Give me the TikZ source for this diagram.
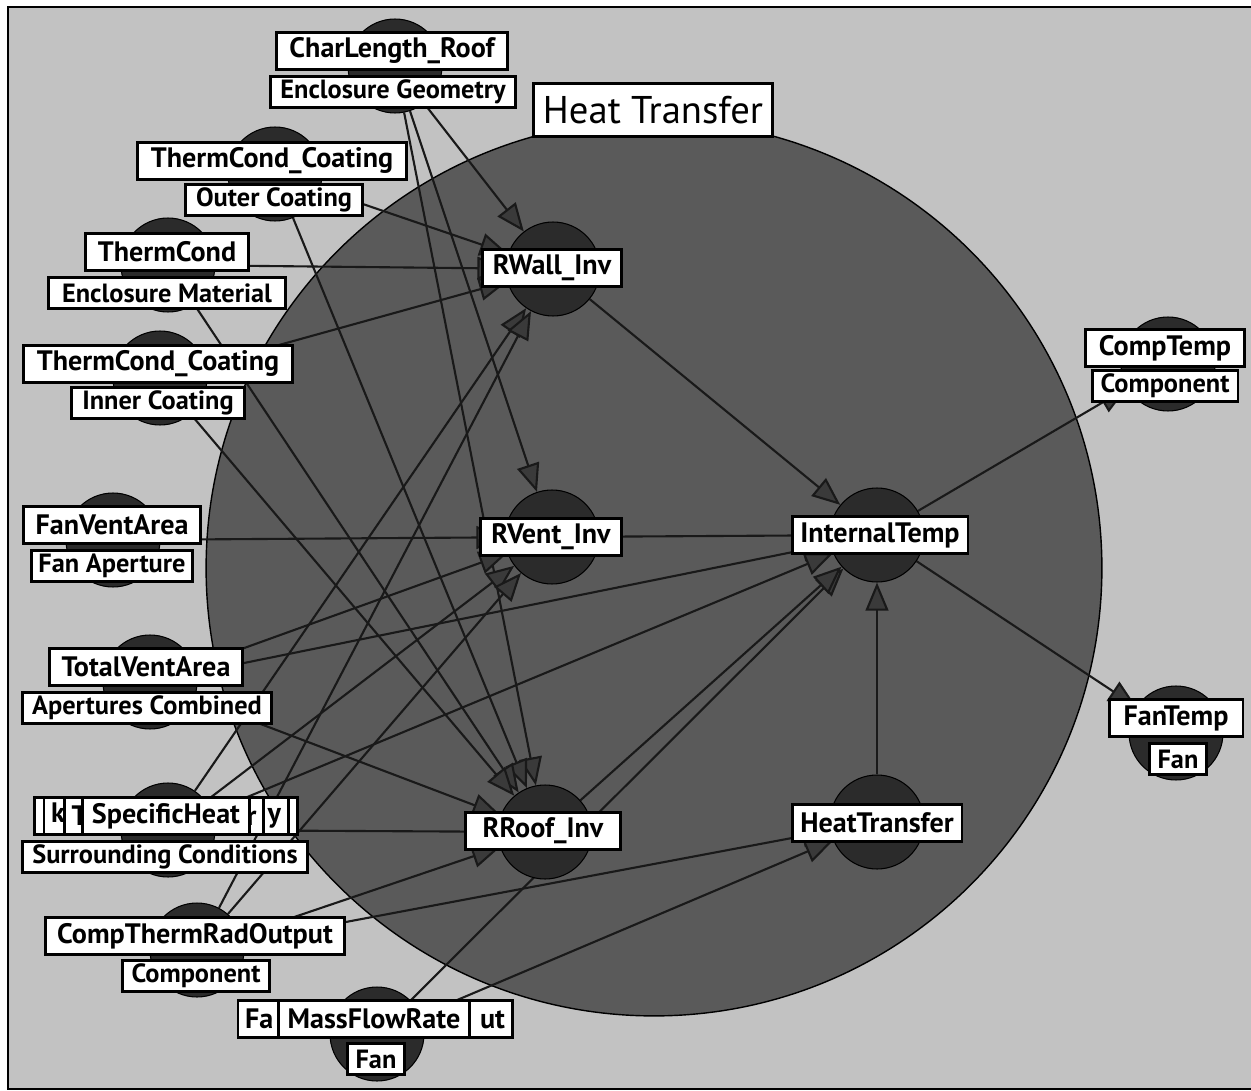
\documentclass[tikz,border=0pt]{standalone}
\usepackage{fontspec}
\setmainfont{PT Sans}
\usepackage{tikz}
\usetikzlibrary{arrows.meta}

\definecolor{paper}{HTML}{C2C2C2}
\definecolor{disc}{HTML}{5A5A5A}
\definecolor{knob}{HTML}{2B2B2B}
\definecolor{tipgray}{HTML}{3A3A3A}
\pgfdeclarelayer{back}
\pgfdeclarelayer{wires}
\pgfsetlayers{back,wires,main}

\begin{document}
\begin{tikzpicture}[x=0.02cm,y=-0.02cm,
  vnode/.style={circle,fill=knob,draw=black,line width=0.6pt,minimum size=1.88cm,inner sep=0pt},
  vlabel/.style={draw=black,line width=1.7pt,fill=white,inner sep=1pt,minimum height=0.74cm,
    font=\bfseries\fontsize{16}{16}\selectfont},
  glabel/.style={vlabel,minimum height=0.62cm,font=\bfseries\fontsize{15}{15}\selectfont},
  dep/.style={line width=1.2pt,draw=black!90,-{Triangle[length=16pt,width=13pt,fill=tipgray]}}]
  \useasboundingbox (0,0) rectangle (1251,1091);
  \begin{pgfonlayer}{back}
    \draw[line width=1.6pt,fill=paper] (8,7) rectangle (1262,1089);
    \draw[line width=0.8pt,fill=disc] (654,568) circle[radius=8.96cm]; % Heat Transfer の領域
  \end{pgfonlayer}

  % 変数の丸
  \node[vnode] (clr) at (395,66) {};
  \node[vnode] (tco) at (275,174) {};
  \node[vnode] (tcm) at (168,265) {};
  \node[vnode] (tci) at (160,378) {};
  \node[vnode] (fva) at (113,540) {};
  \node[vnode] (tva) at (150,682) {};
  \node[vnode] (sph) at (168,830) {};
  \node[vnode] (ctr) at (197,950) {};
  \node[vnode] (mfr) at (377,1034) {};
  \node[vnode] (rwall) at (553,269) {};
  \node[vnode] (rvent) at (552,537) {};
  \node[vnode] (rroof) at (545,832) {};
  \node[vnode] (itemp) at (877,535) {};
  \node[vnode] (htr) at (877,822) {};
  \node[vnode] (ctemp) at (1168,364) {};
  \node[vnode] (ftemp) at (1176,733) {};

  \begin{pgfonlayer}{wires}
    \draw[dep] (clr) -- (rwall);
    \draw[dep] (clr) -- (rvent);
    \draw[dep] (clr) -- (rroof);
    \draw[dep] (tco) -- (rwall);
    \draw[dep] (tco) -- (rroof);
    \draw[dep] (tcm) -- (rwall);
    \draw[dep] (tcm) -- (rroof);
    \draw[dep] (tci) -- (rwall);
    \draw[dep] (tci) -- (rroof);
    \draw[dep] (fva) -- (rvent);
    \draw[dep] (tva) -- (rvent);
    \draw[dep] (tva) -- (itemp);
    \draw[dep] (tva) -- (rroof);
    \draw[dep] (sph) -- (rwall);
    \draw[dep] (sph) -- (rvent);
    \draw[dep] (sph) -- (itemp);
    \draw[dep] (sph) -- (rroof);
    \draw[dep] (ctr) -- (rwall);
    \draw[dep] (ctr) -- (rvent);
    \draw[dep] (ctr) -- (rroof);
    \draw[dep] (ctr) -- (htr);
    \draw[dep] (mfr) -- (itemp);
    \draw[dep] (mfr) -- (htr);
    \draw[dep] (rwall) -- (itemp);
    \draw[dep] (rvent) -- (itemp);
    \draw[dep] (rroof) -- (itemp);
    \draw[dep] (htr) -- (itemp);
    \draw[dep] (itemp) -- (ctemp); % 出力
    \draw[dep] (itemp) -- (ftemp); % 出力
  \end{pgfonlayer}

  % ラベル
  \node[vlabel,minimum width=4.62cm] (clr-v) at (392,51) {CharLength\_Roof};
  \node[glabel,minimum width=4.9cm] (clr-g) at (393,92) {Enclosure Geometry};
  \node[vlabel,minimum width=5.38cm] (tco-v) at (272,161) {ThermCond\_Coating};
  \node[glabel,minimum width=3.54cm] (tco-g) at (274,200) {Outer Coating};
  \node[vlabel,minimum width=3.28cm] (tcm-v) at (167,252) {ThermCond};
  \node[glabel,minimum width=4.76cm] (tcm-g) at (167,293) {Enclosure Material};
  \node[vlabel,minimum width=5.4cm] (tci-v) at (158,364) {ThermCond\_Coating};
  \node[glabel,minimum width=3.48cm] (tci-g) at (158,403) {Inner Coating};
  \node[vlabel,minimum width=3.56cm] (fva-v) at (112,525) {FanVentArea};
  \node[glabel,minimum width=3.22cm] (fva-g) at (112,566) {Fan Aperture};
  \node[vlabel,minimum width=3.88cm] (tva-v) at (146,667) {TotalVentArea};
  \node[glabel,minimum width=5.0cm] (tva-g) at (147,708) {Apertures Combined};
  \node[vlabel,minimum width=5.26cm] (sph-a) at (166,816) {};
  \node[vlabel,text width=4.6cm,inner xsep=4pt] (sph-b) at (166,816) {k\hfill y};
  \node[vlabel,text width=3.7cm,inner xsep=4pt] (sph-c) at (164,816) {T\hfill r};
  \node[vlabel,minimum width=3.34cm] (sph-v) at (166,816) {SpecificHeat};
  \node[glabel,minimum width=5.7cm] (sph-g) at (165,857) {Surrounding Conditions};
  \node[vlabel,minimum width=6.0cm] (ctr-v) at (195,936) {CompThermRadOutput};
  \node[glabel,minimum width=2.94cm] (ctr-g) at (196,976) {Component};
  \node[vlabel,text width=5.2cm,inner xsep=4pt] (mfr-a) at (375,1019) {Fa\hfill ut};
  \node[vlabel,minimum width=3.84cm] (mfr-v) at (374,1019) {MassFlowRate};
  \node[glabel,minimum width=1.14cm] (mfr-g) at (376,1059) {Fan};
  \node[vlabel,minimum width=2.78cm] (rwall-v) at (552,268) {RWall\_Inv};
  \node[vlabel,minimum width=2.84cm] (rvent-v) at (551,537) {RVent\_Inv};
  \node[vlabel,minimum width=3.52cm] (itemp-v) at (880,535) {InternalTemp};
  \node[vlabel,minimum width=3.1cm] (rroof-v) at (543,831) {RRoof\_Inv};
  \node[vlabel,minimum width=3.4cm] (htr-v) at (877,823) {HeatTransfer};
  \node[vlabel,minimum width=3.18cm] (ctemp-v) at (1165,348) {CompTemp};
  \node[glabel,minimum width=2.92cm] (ctemp-g) at (1165,386) {Component};
  \node[vlabel,minimum width=2.68cm] (ftemp-v) at (1176,718) {FanTemp};
  \node[glabel,minimum width=1.14cm] (ftemp-g) at (1178,759) {Fan};
  \node[vlabel,minimum width=4.8cm,minimum height=1.06cm,font=\fontsize{22}{22}\selectfont] (title) at (653,110) {Heat Transfer};
\end{tikzpicture}
\end{document}
